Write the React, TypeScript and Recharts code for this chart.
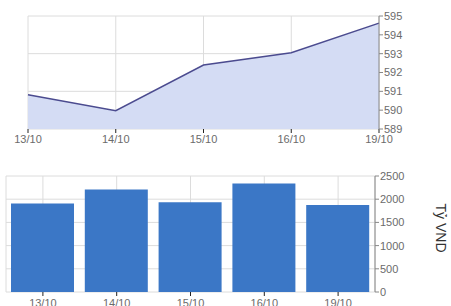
import React from "react";
import {
  AreaChart,
  Area,
  BarChart,
  Bar,
  XAxis,
  YAxis,
  CartesianGrid,
} from "recharts";

const days = ["13/10", "14/10", "15/10", "16/10", "19/10"];
const index = [590.82, 589.97, 592.4, 593.05, 594.62];
const value = [1910, 2210, 1935, 2340, 1875];
const indexTicks = [589, 590, 591, 592, 593, 594, 595];
const valueTicks = [0, 500, 1000, 1500, 2000, 2500];

const indexData = days.map((d, i) => ({ day: d, index: index[i] }));
const valueData = days.map((d, i) => ({ day: d, value: value[i] }));

const font = { fill: "#6b6b6b", fontSize: 11, fontFamily: "'Liberation Sans', Arial, sans-serif" };

export default function App() {
  return (
    <div style={{ position: "fixed", left: 0, top: 0, width: 451, height: 306, background: "#fff" }}>
      <AreaChart
        width={451}
        height={150}
        data={indexData}
        margin={{ top: 16, right: 0, left: 28, bottom: 0 }}
      >
        <CartesianGrid stroke="#dcdcdc" />
        <XAxis
          dataKey="day"
          height={21}
          axisLine={false}
          tickSize={4}
          tickMargin={2}
          tickLine={{ stroke: "#222" }}
          tick={font}
          interval={0}
        />
        <YAxis
          orientation="right"
          width={72}
          domain={[589, 595]}
          ticks={indexTicks}
          tickSize={4}
          tickMargin={1}
          axisLine={{ stroke: "#888" }}
          tickLine={{ stroke: "#888" }}
          tick={font}
        />
        <Area
          type="linear"
          dataKey="index"
          stroke="#4b4b8f"
          strokeWidth={1.5}
          fill="#d4dcf4"
          fillOpacity={1}
          isAnimationActive={false}
        />
      </AreaChart>
      <BarChart
        width={451}
        height={156}
        data={valueData}
        margin={{ top: 26, right: 0, left: 6, bottom: 0 }}
      >
        <CartesianGrid stroke="#dcdcdc" />
        <XAxis
          dataKey="day"
          height={14}
          axisLine={false}
          tickSize={4}
          tickMargin={3}
          tickLine={{ stroke: "#222" }}
          tick={font}
          interval={0}
        />
        <YAxis
          orientation="right"
          width={76}
          domain={[0, 2500]}
          ticks={valueTicks}
          tickSize={4}
          tickMargin={1}
          axisLine={{ stroke: "#888" }}
          tickLine={{ stroke: "#888" }}
          tick={font}
          label={{
            value: "Tỷ VND",
            angle: 90,
            position: "center",
            dx: 28,
            dy: -6,
            style: { fill: "#333", fontSize: 14, fontFamily: "'Liberation Sans', Arial, sans-serif" },
          }}
        />
        <Bar dataKey="value" fill="#3b77c6" barSize={63} isAnimationActive={false} />
      </BarChart>
    </div>
  );
}
